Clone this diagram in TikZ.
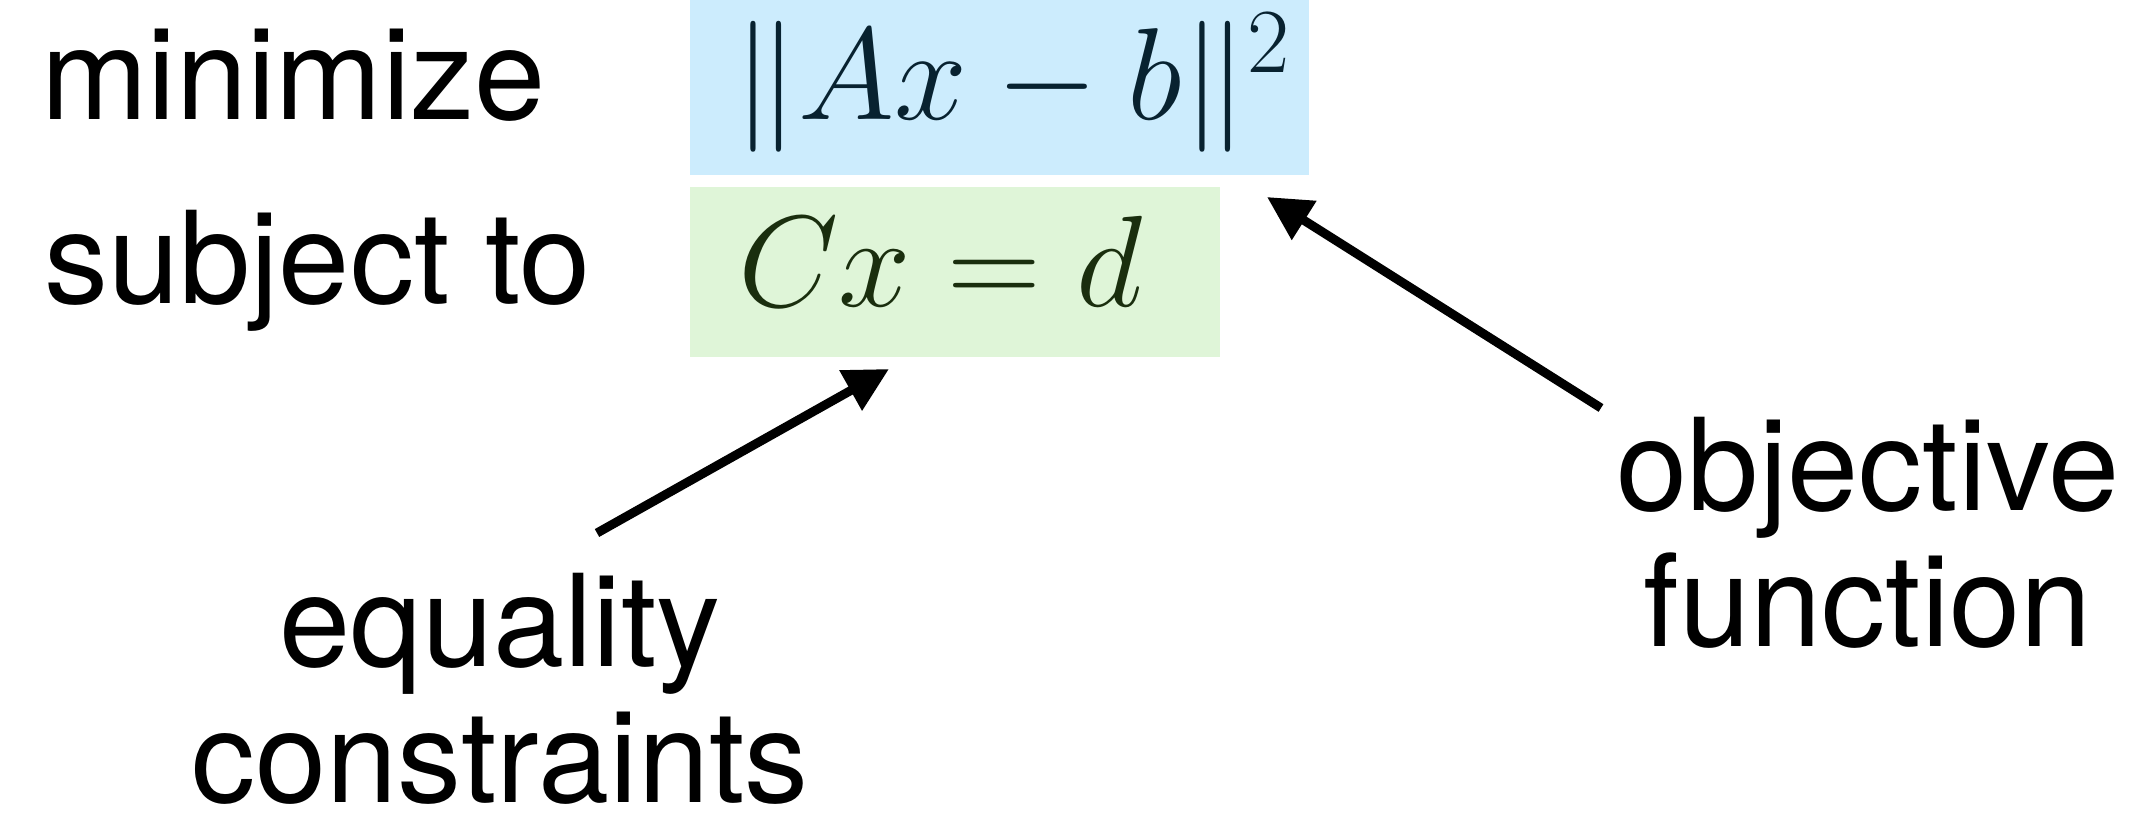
\documentclass[tikz,border=0pt]{standalone}
\usepackage{fix-cm}
\usepackage[no-math]{fontspec}
\setmainfont{TeX Gyre Heros}
\usetikzlibrary{arrows.meta}
\definecolor{objblue}{RGB}{204, 236, 253}
\definecolor{congreen}{RGB}{223, 245, 216}
\definecolor{objink}{RGB}{8, 34, 48}
\definecolor{conink}{RGB}{26, 46, 14}

\begin{document}
\begin{tikzpicture}[x=1pt, y=1pt,
  lbl/.style = {inner sep=0pt, anchor=base west, font=\fontsize{128}{136}\selectfont},
  ann/.style = {inner sep=0pt, align=center, anchor=base, font=\fontsize{128}{136}\selectfont},
  mbox/.style = {anchor=north west, inner sep=0pt},
  mtext/.style = {anchor=base west, inner sep=0pt},
  arr/.style = {-{Triangle[length=44pt, width=44pt]}, line width=9pt}
]
\useasboundingbox (0,0) rectangle (2142,-813);
\node[lbl] (minlbl) at (41,-120) {minimize};
\node[lbl] (stlbl)  at (44,-303) {subject to};
\node[mbox, fill=objblue,  minimum width=619pt, minimum height=175pt] (obj) at (690,0) {};
\node[mbox, fill=congreen, minimum width=530pt, minimum height=170pt] (con) at (690,-187) {};
\node[mtext, text=objink, font=\fontsize{131}{150}\selectfont] (objeq) at (733,-120) {$\|Ax-b\|^2$};
\node[mtext, text=conink, font=\fontsize{130}{150}\selectfont] (coneq) at (738,-306) {$Cx=d$};
\node[ann] (objlbl) at (1868,-646) {objective\\function};
\node[ann] (conlbl) at (500,-802) {equality\\constraints};
\coordinate (objtail) at (1601,-408);
\coordinate (objtip)  at (1267,-197);
\coordinate (contail) at (597,-533);
\coordinate (contip)  at (889,-369);
\draw[arr] (objtail) -- (objtip);
\draw[arr] (contail) -- (contip);
\end{tikzpicture}
\end{document}
